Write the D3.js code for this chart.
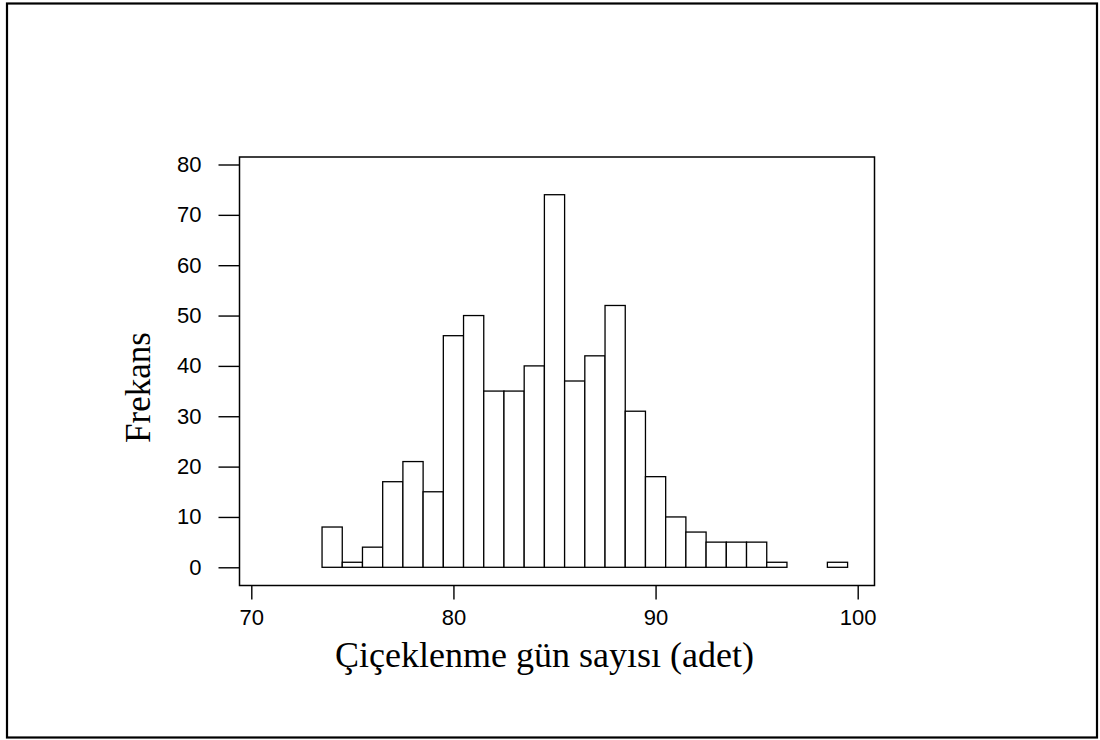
<!DOCTYPE html>
<html>
<head>
<meta charset="utf-8">
<title>Çiçeklenme histogram</title>
<style>
  body { margin: 0; background: #fff; }
  svg { display: block; }
</style>
</head>
<body>
<script src="https://d3js.org/d3.v7.min.js"></script>
<script>
// histogram bins (centre of each 1-day bin) and their frequencies
var binCenters = [74, 75, 76, 77, 78, 79, 80, 81, 82, 83, 84, 85, 86,
                  87, 88, 89, 90, 91, 92, 93, 94, 95, 96, 97, 98, 99];
var counts = [8, 1, 4, 17, 21, 15, 46, 50, 35, 35, 40, 74, 37,
              42, 52, 31, 18, 10, 7, 5, 5, 5, 1, 0, 0, 1];
var xTicks = [70, 80, 90, 100];
var yTicks = [0, 10, 20, 30, 40, 50, 60, 70, 80];
var xTitle = 'Çiçeklenme gün sayısı (adet)';
var yTitle = 'Frekans';

var width = 1100, height = 740;
var frame = {left: 239.5, right: 874.5, top: 157, bottom: 585.5};

var svg = d3.select('body').append('svg')
    .attr('width', width)
    .attr('height', height);

// outer border
svg.append('rect')
    .attr('x', 7).attr('y', 3.5)
    .attr('width', 1090).attr('height', 734)
    .attr('fill', 'none')
    .attr('stroke', '#000')
    .attr('stroke-width', 2.2);

var x = d3.scaleLinear().domain([70, 100]).range([251.3, 857.7]);
var y = d3.scaleLinear().domain([0, 80]).range([567.3, 164.5]);

// bars
svg.selectAll('.bar')
    .data(binCenters)
    .enter()
    .append('rect')
    .attr('class', 'bar')
    .attr('x', function(d) { return x(d - 0.5); })
    .attr('width', function(d) { return x(d + 0.5) - x(d - 0.5); })
    .attr('y', function(d, i) { return y(counts[i]); })
    .attr('height', function(d, i) { return y(0) - y(counts[i]); })
    .attr('fill', '#fff')
    .attr('stroke', '#000')
    .attr('stroke-width', 1.3);

// plot frame
svg.append('rect')
    .attr('x', frame.left).attr('y', frame.top)
    .attr('width', frame.right - frame.left)
    .attr('height', frame.bottom - frame.top)
    .attr('fill', 'none')
    .attr('stroke', '#000')
    .attr('stroke-width', 1.5);

// y axis
var yAxis = d3.axisLeft(y).tickValues(yTicks).tickSize(21).tickPadding(17);
var gy = svg.append('g')
    .attr('transform', 'translate(' + frame.left + ',0)')
    .call(yAxis);
gy.select('.domain').remove();

// x axis
var xAxis = d3.axisBottom(x).tickValues(xTicks).tickSize(14).tickPadding(10);
var gx = svg.append('g')
    .attr('transform', 'translate(0,' + frame.bottom + ')')
    .call(xAxis);
gx.select('.domain').remove();

svg.selectAll('.tick line').attr('stroke', '#000').attr('stroke-width', 1.4);
svg.selectAll('.tick text')
    .attr('fill', '#000')
    .style('font-family', '"Liberation Sans", Arial, sans-serif')
    .style('font-size', '22px');

// axis titles
svg.append('text')
    .attr('x', 544.5)
    .attr('y', 667)
    .attr('text-anchor', 'middle')
    .style('font-family', '"Liberation Serif", "Times New Roman", serif')
    .style('font-size', '36px')
    .text(xTitle);

svg.append('text')
    .attr('transform', 'translate(150,387.5) rotate(-90)')
    .attr('text-anchor', 'middle')
    .style('font-family', '"Liberation Serif", "Times New Roman", serif')
    .style('font-size', '35px')
    .text(yTitle);
</script>
</body>
</html>
